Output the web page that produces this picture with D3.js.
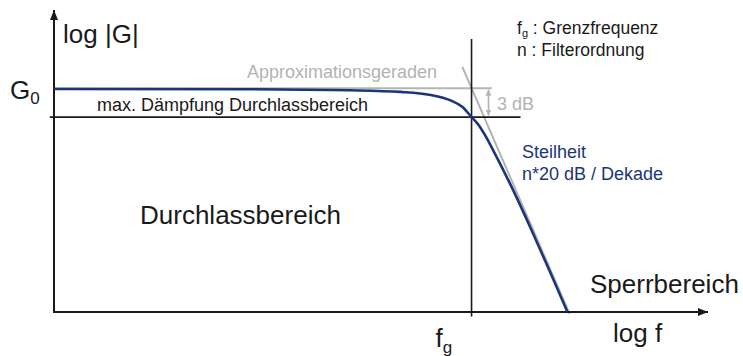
<!DOCTYPE html>
<html>
<head>
<meta charset="utf-8">
<script src="https://cdn.jsdelivr.net/npm/d3@7"></script>
<style>
  html, body { margin: 0; padding: 0; background: #fff; }
  svg { display: block; font-family: "Liberation Sans", Arial, sans-serif; }
</style>
</head>
<body>
<svg id="chart" width="743" height="356"></svg>
<script>
// Lowpass magnitude response (schematic Bode plot)
// x: log10(f / fg) in decades, y: gain relative to G0 in dB
const curveLogF = [-2.49, -1.318, -0.722, -0.423, -0.244, -0.125, -0.054, 0, 0.042, 0.083, 0.143, 0.233, 0.352, 0.471, 0.572];
const curveGain = [-0.08, -0.11, -0.22, -0.39, -0.70, -1.27, -1.95, -3, -3.81, -4.95, -6.92, -10.03, -14.49, -19.15, -23.2];

// Approximation lines: passband (0 dB) and stopband slope (n = 2 -> 40 dB/decade)
const passbandLogF = [-2.49, 0.12];
const passbandGain = [0, 0];
const slopeLogF = [-0.055, 0.585];
const slopeGain = [2.2, -23.4];

// Maximum passband attenuation
const maxAttLogF = [-2.515, 0.292];
const maxAttGain = [-3, -3];

const cornerLogF = 0;      // fg
const attenuationDb = 3;   // 3 dB at fg

const xDomain = [-2.49, 1.41];
const yDomain = [-23.2, 8.1];

const svg = d3.select("#chart");
const x = d3.scaleLinear().domain(xDomain).range([54, 708]);
const y = d3.scaleLinear().domain(yDomain).range([312, 10]);

const BLUE = "#1c3578";
const GRAY = "#b3b3b3";
const INK = "#1a1a1a";

const defs = svg.append("defs");
function arrowMarker(id, color, w, h) {
  defs.append("marker")
    .attr("id", id).attr("viewBox", `0 0 ${w} ${h}`)
    .attr("refX", w).attr("refY", h / 2)
    .attr("markerWidth", w).attr("markerHeight", h)
    .attr("markerUnits", "userSpaceOnUse")
    .attr("orient", "auto-start-reverse")
    .append("path").attr("d", `M0,0 L${w},${h / 2} L0,${h} Z`).attr("fill", color);
}
arrowMarker("axisArrow", INK, 10, 8);
arrowMarker("dbArrow", GRAY, 6, 6);

const line = d3.line().x(d => x(d[0])).y(d => y(d[1]));
const zip = (a, b) => a.map((v, i) => [v, b[i]]);

// Approximation lines (gray)
svg.append("path").datum(zip(passbandLogF, passbandGain)).attr("d", line)
  .attr("fill", "none").attr("stroke", GRAY).attr("stroke-width", 2);
svg.append("path").datum(zip(slopeLogF, slopeGain)).attr("d", line)
  .attr("fill", "none").attr("stroke", GRAY).attr("stroke-width", 2);

// Max attenuation line
svg.append("path").datum(zip(maxAttLogF, maxAttGain)).attr("d", line)
  .attr("fill", "none").attr("stroke", INK).attr("stroke-width", 1.6);

// Corner frequency line
svg.append("line")
  .attr("x1", x(cornerLogF)).attr("x2", x(cornerLogF))
  .attr("y1", y(5.1)).attr("y2", y(yDomain[0]) + 4.5)
  .attr("stroke", INK).attr("stroke-width", 1.6);

// Axes
svg.append("line")
  .attr("x1", x(xDomain[0])).attr("y1", y(yDomain[0]))
  .attr("x2", x(xDomain[0])).attr("y2", y(yDomain[1]))
  .attr("stroke", INK).attr("stroke-width", 2)
  .attr("marker-end", "url(#axisArrow)");
svg.append("line")
  .attr("x1", x(xDomain[0]) - 1).attr("y1", y(yDomain[0]))
  .attr("x2", x(xDomain[1])).attr("y2", y(yDomain[0]))
  .attr("stroke", INK).attr("stroke-width", 2)
  .attr("marker-end", "url(#axisArrow)");

// Magnitude curve
svg.append("path").datum(zip(curveLogF, curveGain))
  .attr("d", d3.line().x(d => x(d[0])).y(d => y(d[1])).curve(d3.curveMonotoneX))
  .attr("fill", "none").attr("stroke", BLUE).attr("stroke-width", 2.6);

// 3 dB double arrow
const dbX = x(0.101);
svg.append("line")
  .attr("x1", dbX).attr("x2", dbX)
  .attr("y1", y(0) + 1.5).attr("y2", y(-attenuationDb) - 1.5)
  .attr("stroke", GRAY).attr("stroke-width", 1.6)
  .attr("marker-start", "url(#dbArrow)").attr("marker-end", "url(#dbArrow)");

// Text
function text(tx, ty, str, size, color, anchor) {
  return svg.append("text").attr("x", tx).attr("y", ty)
    .attr("font-size", size).attr("fill", color || INK)
    .attr("text-anchor", anchor || "start").text(str);
}

text(63, 43, "log |G|", 26);
const g0 = text(10, 99, "G", 26);
g0.append("tspan").attr("font-size", 17).attr("dy", 5).text(String(0));

text(437, 78, "Approximationsgeraden", 18, GRAY, "end");
text(97, 111, "max. Dämpfung Durchlassbereich", 18);
text(497, 110, attenuationDb + " dB", 18, GRAY);

text(140, 224, "Durchlassbereich", 26);
text(590, 293, "Sperrbereich", 26);
text(613, 342, "log f", 26);

const fg = text(x(cornerLogF) - 36, 347, "f", 26);
fg.append("tspan").attr("font-size", 17).attr("dy", 6).text("g");

text(522, 158, "Steilheit", 18, BLUE);
text(522, 180, "n*20 dB / Dekade", 18, BLUE);

const l1 = text(517, 34, "f", 17.5);
l1.append("tspan").attr("font-size", 11).attr("dy", 3).text("g");
l1.append("tspan").attr("dy", -3).text(" : Grenzfrequenz");
text(517, 56, "n : Filterordnung", 17.5);
</script>
</body>
</html>
